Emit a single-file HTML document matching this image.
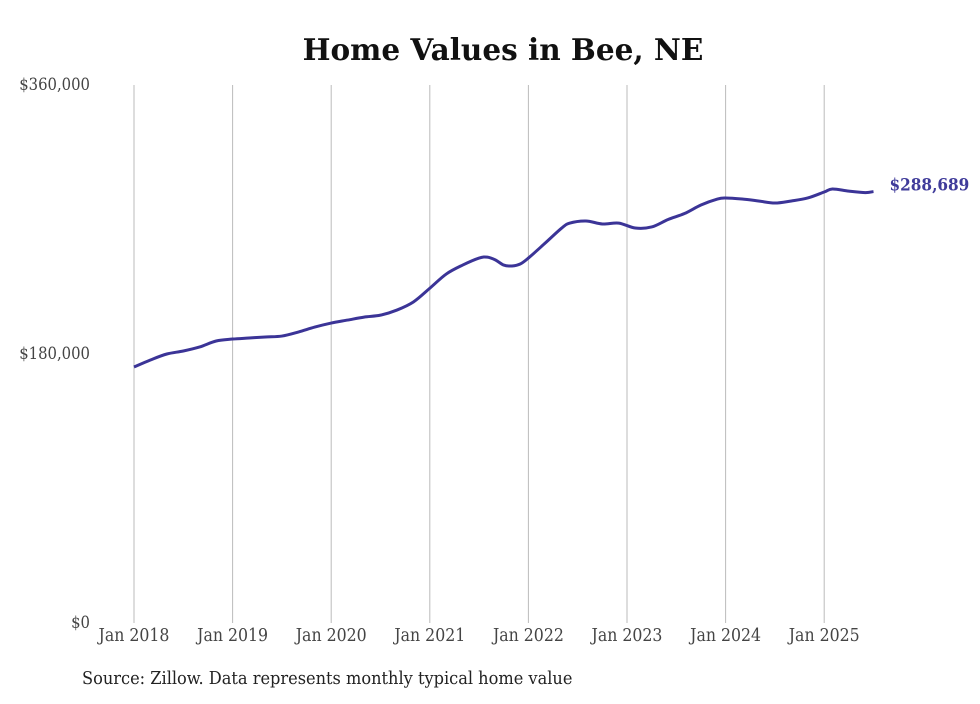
<!DOCTYPE html>
<html><head><meta charset="utf-8"><style>
body{margin:0;background:#fff;width:980px;height:699px;overflow:hidden}
svg text{font-family:"DejaVu Serif","Liberation Serif",serif}
.cond{font-family:"DejaVu Serif Condensed","DejaVu Serif","Liberation Serif",serif;font-stretch:condensed}
</style></head><body>
<svg width="980" height="699">
<text x="503" y="60" text-anchor="middle" font-size="29.5" font-weight="bold" fill="#111">Home Values in Bee, NE</text>
<g id="grid"></g><g id="yax"></g><g id="xax"></g>
<path id="line" fill="none" stroke="#3b3497" stroke-width="3" stroke-linejoin="round"/>
<text id="endlabel" class="cond" font-size="17" font-weight="bold" fill="#3f3b9a"></text>
<text x="82" y="684" class="cond" font-size="18" fill="#222">Source: Zillow. Data represents monthly typical home value</text>
</svg>
<script>
const yearLabels=["Jan 2018","Jan 2019","Jan 2020","Jan 2021","Jan 2022","Jan 2023","Jan 2024","Jan 2025"];
const yTicks=[0,180000,360000];
const yTickLabels=["$0","$180,000","$360,000"];
const months=[0,2,4,6,8,10,12,14,16,18,20,22,24,26,28,30,32,34,36,38,40,42,43,44,45,46,47,48,50,52,53,55,57,59,61,63,65,67,69,71,72,74,76,78,80,82,84,85,87,89,90];
const values=[171300,176000,180000,182000,184700,188700,190000,190700,191400,192000,194700,198000,200700,202700,204700,206000,209400,214800,224000,233500,239500,244200,244800,242900,239500,238900,240200,244200,254000,264000,267500,269000,267000,267600,264300,265000,270000,274000,279700,283700,284400,283700,282400,281000,282400,284400,288400,290400,289000,288000,288689];
const X=m=>134+m*(98.6/12), Y=v=>623-v/360000*538;
const ns="http://www.w3.org/2000/svg";
function mk(t,a,p){const e=document.createElementNS(ns,t);for(const k in a)e.setAttribute(k,a[k]);p.appendChild(e);return e;}
const grid=document.getElementById('grid'),xax=document.getElementById('xax'),yax=document.getElementById('yax');
yearLabels.forEach((l,i)=>{const x=X(i*12);
 const g=mk('line',{x1:x,x2:x,y1:85,y2:623,stroke:'#bbb','stroke-width':1},grid);
 
 
 const t=mk('text',{x:x,y:641,'text-anchor':'middle','font-size':17.5,fill:'#444',class:'cond'},xax);t.textContent=l;
 
 
});
yTicks.forEach((v,i)=>{const t=mk('text',{x:90,y:Y(v)+5,'text-anchor':'end','font-size':16.5,fill:'#444',class:'cond'},yax);t.textContent=yTickLabels[i];
 
 
});
const pts=months.map((m,i)=>[X(m),Y(values[i])]);
let d="M"+pts[0][0]+","+pts[0][1];
for(let i=0;i<pts.length-1;i++){const p0=pts[i-1]||pts[i],p1=pts[i],p2=pts[i+1],p3=pts[i+2]||p2;
 d+=` C${p1[0]+(p2[0]-p0[0])/6},${p1[1]+(p2[1]-p0[1])/6} ${p2[0]-(p3[0]-p1[0])/6},${p2[1]-(p3[1]-p1[1])/6} ${p2[0]},${p2[1]}`;}
document.getElementById('line').setAttribute('d',d);
const last=pts[pts.length-1],el=document.getElementById('endlabel');
el.setAttribute('x',last[0]+16);el.setAttribute('y',last[1]-1);
el.textContent="$"+values[values.length-1].toLocaleString('en-US');
</script>
</body></html>
